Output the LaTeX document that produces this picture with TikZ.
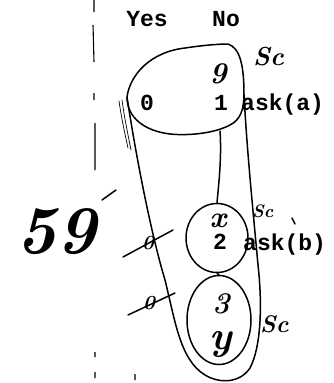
\documentclass[tikz,border=0pt]{standalone}
\usepackage{fontspec}
\newfontfamily\tyfont{Liberation Mono}
\usetikzlibrary{shapes.geometric}
\begin{document}
\begin{tikzpicture}[x=1pt,y=-1pt,
  pen/.style={line width=1.5pt,line cap=round,line join=round},
  thinpen/.style={line width=0.7pt,line cap=round},
  dashpen/.style={line width=1.1pt},
  tw/.style={inner sep=0pt,font=\tyfont\bfseries\fontsize{23}{23}\selectfont},
  hw/.style={inner sep=0pt,font=\bfseries\itshape\fontsize{#1}{#1}\selectfont},
  hw/.default=28,
  ovalnode/.style={draw,pen,ellipse,inner sep=0pt}]
\useasboundingbox[fill=white] (0,0) rectangle (334,383);
% dashed margin line
\draw[dashpen] (94,0) -- (94,12) (93,25) -- (94,62) (94,93) -- (94,100)
  (95,123) -- (95,170) (95,352) -- (95,357) (95,372) -- (95,378) (135,374) -- (135,380);
% headings
\node[tw,anchor=base] (yes) at (147,26) {Yes};
\node[tw,anchor=base] (no) at (226,26) {No};
% top blob
\coordinate (bl) at (127,97);
\coordinate (br) at (244,95);
\coordinate (bb) at (220,131);
\draw[pen] (bl) .. controls (130,75) and (150,52) .. (185,48)
  .. controls (205,45) and (220,44) .. (228,44)
  .. controls (240,48) and (244,65) .. (br)
  .. controls (244,110) and (240,120) .. (230,125)
  .. controls (215,133) and (190,136) .. (170,134)
  .. controls (145,131) and (127,118) .. (bl);
\node[hw=30,anchor=base] (nine) at (218,83) {9};
\node[tw,anchor=base] (zero) at (147,110) {0};
\node[tw,anchor=base] (one) at (221,110) {1};
\node[tw,anchor=base west] (aska) at (241,110) {ask(a)};
\node[hw=26,anchor=base west] (sc1) at (253,65) {Sc};
% hatching strokes at the left of the blob
\draw[thinpen] (119,101) .. controls (121,115) and (124,130) .. (128,148);
\draw[thinpen] (122,100) .. controls (124,115) and (127,130) .. (131,150);
% lower ovals
\node[ovalnode,minimum width=62,minimum height=69] (n2) at (217,238) {};
\node[ovalnode,minimum width=64,minimum height=89] (n3) at (219,320) {};
\node[hw=30,anchor=base] (xl) at (218,227) {x};
\node[tw,anchor=base] (two) at (220,249) {2};
\node[tw,anchor=base west] (askb) at (243,250) {ask(b)};
\node[hw=18,anchor=base west] (sc2) at (252,217) {Sc};
\node[hw=30,anchor=base] (three) at (221,313) {3};
\node[hw=40,anchor=base] (yl) at (221,349) {y};
\node[hw=24,anchor=base west] (sc3) at (260,332) {Sc};
% connectors
\draw[pen] (bb) .. controls (222,160) and (218,190) .. (n2.north);
\draw[pen] (n2.south) -- (n3.north);
% big loop
\draw[pen] (bl) .. controls (135,150) and (150,230) .. (165,280)
  .. controls (175,320) and (180,360) .. (205,375)
  .. controls (220,384) and (240,383) .. (250,368)
  .. controls (262,345) and (262,300) .. (258,265)
  .. controls (252,200) and (247,150) .. (br);
% margin notes
\node[hw=68,anchor=base west] (fiftynine) at (16,253) {59};
\draw[pen] (102,200) -- (116,190);
\draw[pen] (292,218) -- (295,224);
\node[hw=20] (z1) at (148,243) {0};
\draw[pen] (123,257) -- (173,230);
\node[hw=20] (z2) at (149,303) {0};
\draw[pen] (128,315) -- (175,293);
\end{tikzpicture}
\end{document}
